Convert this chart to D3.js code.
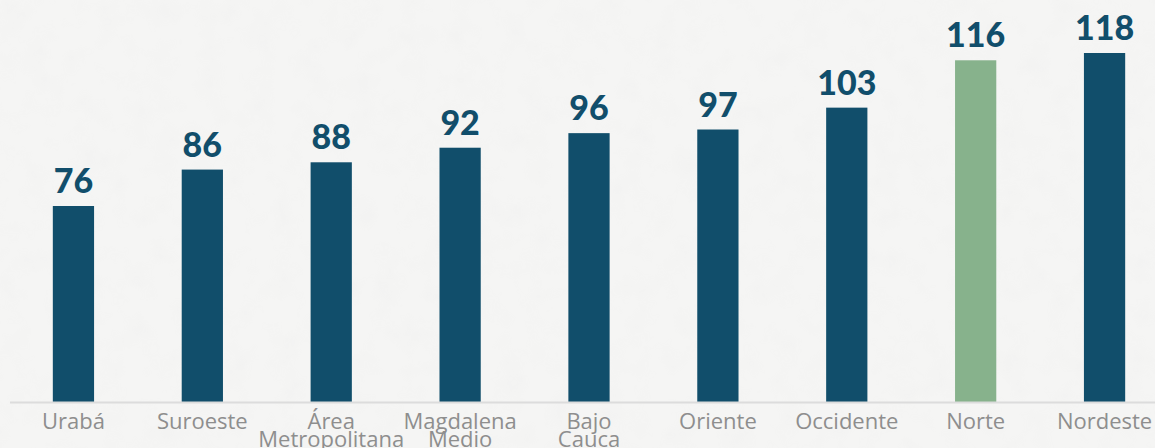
<!DOCTYPE html>
<html>
<head>
<meta charset="utf-8">
<script src="https://cdn.jsdelivr.net/npm/d3@7"></script>
<style>
  html, body { margin: 0; padding: 0; background: #f4f4f3; }
  svg { display: block; }
  .value { font-family: Lato, sans-serif; font-weight: 900; fill: #114e6b; }
  .cat { font-family: 'Open Sans', sans-serif; fill: #8e8e8e; }
</style>
</head>
<body>
<div id="container"></div>
<script>
const categories = ['Urabá', 'Suroeste', 'Área\nMetropolitana', 'Magdalena\nMedio', 'Bajo\nCauca',
                    'Oriente', 'Occidente', 'Norte', 'Nordeste'];
const values = [76, 86, 88, 92, 96, 97, 103, 116, 118];
const highlight = ['Norte'];

const width = 1155;
const height = 448;
const baseline = 402;

const svg = d3.select('#container')
              .append('svg')
              .attr('width', width)
              .attr('height', height);

// paper-like background
const defs = svg.append('defs');
const filter = defs.append('filter')
                   .attr('id', 'paper')
                   .attr('x', 0).attr('y', 0)
                   .attr('width', '100%').attr('height', '100%');
filter.append('feTurbulence')
      .attr('type', 'fractalNoise')
      .attr('baseFrequency', 0.04)
      .attr('numOctaves', 3)
      .attr('seed', 4)
      .attr('result', 'noise');
filter.append('feColorMatrix')
      .attr('in', 'noise')
      .attr('type', 'matrix')
      .attr('values', '0 0 0 0 0.55  0 0 0 0 0.55  0 0 0 0 0.55  0 0 0 -0.9 0.5');

svg.append('rect')
   .attr('width', width)
   .attr('height', height)
   .attr('fill', '#f5f5f4');
svg.append('rect')
   .attr('width', width)
   .attr('height', height)
   .attr('filter', 'url(#paper)')
   .attr('opacity', 0.1);

const data = categories.map((c, i) => ({ x: c, y: values[i] }));

const x = d3.scaleBand()
            .range([9, 1169])
            .domain(categories)
            .paddingInner(0.68)
            .paddingOuter(0.34);
const y = d3.scaleLinear()
            .range([baseline, 53])
            .domain([22.2, 118]);

// bars
svg.selectAll('rect.bar')
   .data(data)
   .enter()
   .append('rect')
   .attr('class', 'bar')
   .attr('x', (d) => x(d.x))
   .attr('y', (d) => y(d.y))
   .attr('width', x.bandwidth())
   .attr('height', (d) => baseline - y(d.y))
   .attr('fill', (d) => highlight.includes(d.x) ? '#87b28c' : '#114e6b');

// baseline
svg.append('path')
   .attr('d', `M10,${baseline + 0.5}H${width}`)
   .attr('stroke', '#dcdcdc')
   .attr('stroke-width', 2);

// value labels
svg.selectAll('text.value')
   .data(data)
   .enter()
   .append('text')
   .attr('class', 'value')
   .attr('x', (d) => x(d.x) + x.bandwidth() / 2)
   .attr('y', (d) => y(d.y) - 13)
   .attr('text-anchor', 'middle')
   .style('font-size', '34px')
   .text((d) => d.y);

// category labels
const cats = svg.selectAll('text.cat')
   .data(data)
   .enter()
   .append('text')
   .attr('class', 'cat')
   .attr('x', (d) => x(d.x) + x.bandwidth() / 2)
   .attr('y', 429)
   .attr('text-anchor', 'middle')
   .style('font-size', '22px');
cats.selectAll('tspan')
    .data((d) => d.x.split('\n'))
    .enter()
    .append('tspan')
    .attr('x', function () { return d3.select(this.parentNode).attr('x'); })
    .attr('dy', (d, i) => i ? 18 : 0)
    .text((d) => d);
</script>
</body>
</html>
